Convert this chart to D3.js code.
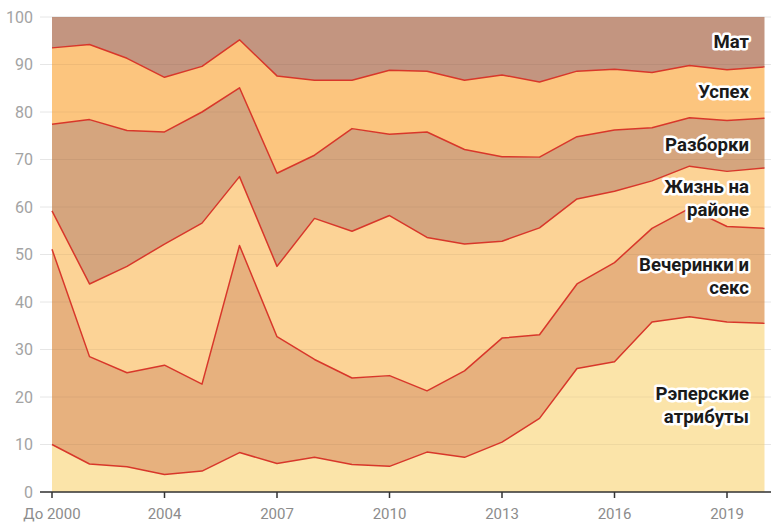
<!DOCTYPE html>
<meta charset="utf-8">
<style>
body { margin: 0; background: #fff; }
text { font-family: Roboto, "Noto Sans", sans-serif; }
</style>
<svg id="chart" width="771" height="523"></svg>
<script src="https://d3js.org/d3.v7.min.js"></script>
<script>

var svg = d3.select("svg#chart"),
	width = +svg.attr("width"),
	height = +svg.attr("height"),
	margin = { top: 17, right: 6.5, bottom: 31, left: 52 };

var years = ["До 2000", "2002", "2003", "2004", "2005", "2006", "2007", "2008", "2009", "2010",
	"2011", "2012", "2013", "2014", "2015", "2016", "2017", "2018", "2019", "2020"];
var tickYears = ["До 2000", "2004", "2007", "2010", "2013", "2016", "2019"];

// shares, %, bottom to top
var attributes = [10.0, 5.9, 5.3, 3.7, 4.4, 8.3, 6.0, 7.3, 5.8, 5.4, 8.4, 7.3, 10.5, 15.5, 26.0, 27.4, 35.8, 36.9, 35.8, 35.5];
var parties = [41.1, 22.6, 19.8, 23.0, 18.3, 43.6, 26.7, 20.6, 18.2, 19.1, 12.9, 18.2, 21.9, 17.6, 17.8, 20.9, 19.7, 22.8, 20.1, 20.0];
var hood = [8.1, 15.3, 22.4, 25.5, 33.9, 14.5, 14.8, 29.7, 30.9, 33.7, 32.3, 26.7, 20.4, 22.5, 17.9, 15.0, 10.0, 8.9, 11.6, 12.7];
var beef = [18.2, 34.6, 28.6, 23.6, 23.4, 18.7, 19.6, 13.3, 21.6, 17.1, 22.2, 19.9, 17.8, 14.9, 13.1, 12.9, 11.2, 10.2, 10.7, 10.5];
var success = [16.1, 15.8, 15.2, 11.5, 9.6, 10.1, 20.5, 15.8, 10.2, 13.5, 12.8, 14.6, 17.2, 15.8, 13.8, 12.8, 11.6, 11.0, 10.7, 10.8];
var swearing = [6.5, 5.8, 8.7, 12.7, 10.4, 4.8, 12.4, 13.3, 13.3, 11.2, 11.4, 13.3, 12.2, 13.7, 11.4, 11.0, 11.7, 10.2, 11.1, 10.5];

var series = [
	{ key: "attributes", label: ["Рэперские", "атрибуты"], values: attributes, color: "#fbe4a9", ly: 18.3 },
	{ key: "parties", label: ["Вечеринки и", "секс"], values: parties, color: "#e7b17e", ly: 45.5 },
	{ key: "hood", label: ["Жизнь на", "районе"], values: hood, color: "#fcd396", ly: 61.9 },
	{ key: "beef", label: ["Разборки"], values: beef, color: "#d5a57e", ly: 73.2 },
	{ key: "success", label: ["Успех"], values: success, color: "#fcc57e", ly: 84.3 },
	{ key: "swearing", label: ["Мат"], values: swearing, color: "#c39580", ly: 94.8 }
];

var table = years.map(function(y, i) {
	var row = { year: y };
	series.forEach(function(s) { row[s.key] = s.values[i]; });
	return row;
});

var stack = d3.stack().keys(series.map(function(s) { return s.key; }));
var stacked = stack(table);

var x = d3.scalePoint()
	.domain(years)
	.range([margin.left, width - margin.right]);

var y = d3.scaleLinear()
	.domain([0, 100])
	.range([height - margin.bottom, margin.top]);

var area = d3.area()
	.x(function(d) { return x(d.data.year); })
	.y0(function(d) { return y(d[0]); })
	.y1(function(d) { return y(d[1]); });

var topLine = d3.line()
	.x(function(d) { return x(d.data.year); })
	.y(function(d) { return y(d[1]); });

// gridlines under everything
svg.append("g")
	.selectAll("line")
	.data(y.ticks(10))
	.enter().append("line")
		.attr("x1", 40)
		.attr("x2", width)
		.attr("y1", function(d) { return y(d); })
		.attr("y2", function(d) { return y(d); })
		.attr("stroke", "#e6e6e6")
		.attr("stroke-width", 1);

svg.append("g")
	.selectAll("path")
	.data(stacked)
	.enter().append("path")
		.attr("d", area)
		.attr("fill", function(d, i) { return series[i].color; });

// faint grid seen through the areas
svg.append("g")
	.selectAll("line")
	.data(y.ticks(10).filter(function(d) { return d > 0; }))
	.enter().append("line")
		.attr("x1", x.range()[0])
		.attr("x2", x.range()[1])
		.attr("y1", function(d) { return y(d); })
		.attr("y2", function(d) { return y(d); })
		.attr("stroke", "#000")
		.attr("stroke-opacity", 0.05)
		.attr("stroke-width", 1);

svg.append("g")
	.selectAll("path")
	.data(stacked.slice(0, stacked.length - 1))
	.enter().append("path")
		.attr("d", topLine)
		.attr("fill", "none")
		.attr("stroke", "#d8372a")
		.attr("stroke-width", 1.5)
		.attr("stroke-linejoin", "round");

// y tick labels
svg.append("g")
	.selectAll("text")
	.data(y.ticks(10))
	.enter().append("text")
		.attr("x", 33)
		.attr("y", function(d) { return y(d); })
		.attr("dy", "0.35em")
		.attr("text-anchor", "end")
		.attr("fill", "#a3a3a3")
		.style("font-size", "16px")
		.text(function(d) { return d; });

// x axis
var xAxis = svg.append("g")
	.attr("transform", "translate(0," + y(0) + ")");

xAxis.append("line")
	.attr("x1", 40)
	.attr("x2", width)
	.attr("stroke", "#333")
	.attr("stroke-width", 1.5);

var xt = xAxis.selectAll("g.tick")
	.data(tickYears)
	.enter().append("g")
		.attr("class", "tick")
		.attr("transform", function(d) { return "translate(" + x(d) + ",0)"; });

xt.append("line")
	.attr("y2", 6)
	.attr("stroke", "#333")
	.attr("stroke-width", 1.5);

xt.append("text")
	.attr("y", 27)
	.attr("text-anchor", "middle")
	.attr("fill", "#8c8c8c")
	.style("font-size", "15px")
	.text(function(d) { return d; });

// series labels
var labels = svg.append("g")
	.selectAll("text")
	.data(series)
	.enter().append("text")
		.attr("x", 749)
		.attr("y", function(d) { return y(d.ly); })
		.attr("text-anchor", "end")
		.style("font-size", "18.6px")
		.style("font-weight", "bold")
		.attr("fill", "#1a1a1a")
		.attr("stroke", "#fff")
		.attr("stroke-width", 5)
		.attr("stroke-linejoin", "round")
		.style("paint-order", "stroke");

labels.selectAll("tspan")
	.data(function(d) {
		var n = d.label.length;
		return d.label.map(function(t, j) { return { t: t, dy: j === 0 ? (-(n - 1) * 0.6 + 0.35) + "em" : "1.2em" }; });
	})
	.enter().append("tspan")
		.attr("x", 749)
		.attr("dy", function(d) { return d.dy; })
		.text(function(d) { return d.t; });

</script>
